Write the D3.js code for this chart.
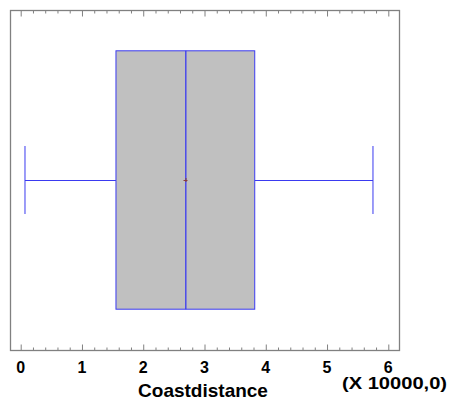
<!DOCTYPE html>
<html>
<head>
<meta charset="utf-8">
<script src="https://cdn.jsdelivr.net/npm/d3@7"></script>
<style>
  html, body { margin: 0; padding: 0; background: #fff; }
  text { font-family: Arial, "Liberation Sans", sans-serif; font-weight: bold; fill: #000; }
</style>
</head>
<body>
<div id="vis"></div>
<script>
// box plot summary of Coastdistance, in units of 10000
var statNames = ["min", "q1", "median", "mean", "q3", "max"]
var statValues = [0.07, 1.555, 2.695, 2.69, 3.82, 5.75]
var tickValues = [0, 1, 2, 3, 4, 5, 6]
var axisTitle = "Coastdistance"
var scaleNote = "(X 10000,0)"

var stats = {}
statNames.forEach(function (n, i) { stats[n] = statValues[i] })

var W = 451, H = 401
var frame = { left: 10, right: 399, top: 10, bottom: 350 }

var svg = d3.select("#vis").append("svg")
    .attr("width", W)
    .attr("height", H)

var x = d3.scaleLinear()
    .domain([0, 6])
    .range([20.7, 388.3])

var y = d3.scaleLinear()
    .domain([0, 1])
    .range([frame.bottom, frame.top])

// frame
svg.append("rect")
    .attr("x", frame.left + 0.5)
    .attr("y", frame.top + 0.5)
    .attr("width", frame.right - frame.left)
    .attr("height", frame.bottom - frame.top)
    .attr("fill", "none")
    .attr("stroke", "#808080")
    .attr("stroke-width", 1.3)

// ticks inside bottom and top
var minor = d3.range(0, 6.01, 0.2)
var axisBottom = d3.axisBottom(x).tickValues(minor).tickSize(-3).tickFormat("")
var axisTopG = d3.axisTop(x).tickValues(minor).tickSize(-3).tickFormat("")

function styleTicks(g) {
    g.select(".domain").remove()
    g.selectAll(".tick line").attr("stroke", "#808080")
    g.selectAll(".tick").filter(function (d) { return Math.abs(d - Math.round(d)) < 1e-6 })
        .select("line").attr("y2", function () { return +d3.select(this).attr("y2") * 2 })
}

svg.append("g").attr("transform", "translate(0," + (frame.bottom + 0.5) + ")").call(axisBottom).call(styleTicks)
svg.append("g").attr("transform", "translate(0," + (frame.top + 0.5) + ")").call(axisTopG).call(styleTicks)

// tick labels
svg.append("g").selectAll("text")
    .data(tickValues)
    .enter()
    .append("text")
    .attr("x", function (d) { return x(d) })
    .attr("y", 373)
    .attr("text-anchor", "middle")
    .attr("font-size", "16px")
    .text(function (d) { return d })

svg.append("text")
    .attr("x", 203)
    .attr("y", 397)
    .attr("text-anchor", "middle")
    .attr("font-size", "19px")
    .text(axisTitle)

svg.append("text")
    .attr("x", 342)
    .attr("y", 389)
    .attr("font-size", "16px")
    .attr("textLength", 105)
    .attr("lengthAdjust", "spacingAndGlyphs")
    .text(scaleNote)

// box
var boxTop = y(0.88), boxBottom = y(0.12), mid = y(0.5)
var capTop = y(0.6), capBottom = y(0.4)
var blue = "#3a3af0"

svg.append("line")
    .attr("x1", x(stats.min)).attr("x2", x(stats.q1))
    .attr("y1", mid + 0.5).attr("y2", mid + 0.5)
    .attr("stroke", blue)
svg.append("line")
    .attr("x1", x(stats.q3)).attr("x2", x(stats.max))
    .attr("y1", mid + 0.5).attr("y2", mid + 0.5)
    .attr("stroke", blue)
svg.selectAll("line.cap")
    .data([stats.min, stats.max])
    .enter()
    .append("line")
    .attr("class", "cap")
    .attr("x1", function (d) { return x(d) })
    .attr("x2", function (d) { return x(d) })
    .attr("y1", capTop).attr("y2", capBottom)
    .attr("stroke", blue)

svg.append("rect")
    .attr("x", x(stats.q1))
    .attr("y", boxTop)
    .attr("width", x(stats.q3) - x(stats.q1))
    .attr("height", boxBottom - boxTop)
    .attr("fill", "#c0c0c0")
    .attr("stroke", blue)

svg.append("line")
    .attr("x1", x(stats.median)).attr("x2", x(stats.median))
    .attr("y1", boxTop).attr("y2", boxBottom)
    .attr("stroke", blue)
    .attr("stroke-width", 1.3)

// mean marker
var mx = x(stats.mean)
svg.append("path")
    .attr("d", "M" + (mx - 2) + "," + (mid + 0.5) + "H" + (mx + 2) + "M" + (mx + 0.5) + "," + (mid - 2) + "V" + (mid + 2))
    .attr("stroke", "#8a3a3a")
    .attr("stroke-width", 1)
</script>
</body>
</html>
